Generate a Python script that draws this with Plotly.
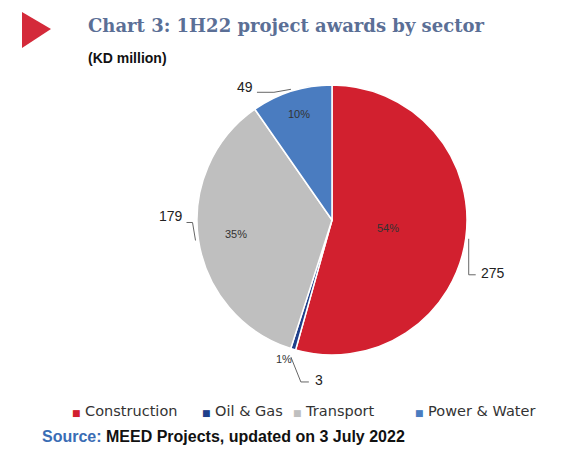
import numpy as np
import plotly.graph_objects as go

categories = ["Construction", "Oil & Gas", "Transport", "Power & Water"]
values = [275, 3, 179, 49]
colors = ["#d2202f", "#1f3f8a", "#bfbfbf", "#4a7cc0"]

W, H = 579, 452
OFF = 8  # page body margin in the browser
def PX(x):
    return (x - OFF) / W
def PY(y):
    return 1 - (y - OFF) / H

cx, cy, R = 332, 220, 135  # pie centre/radius in screen px (layout)

fig = go.Figure()
pcts = [v / sum(values) * 100 for v in values]
fig.add_trace(go.Pie(
    labels=categories, values=values, sort=False, direction="clockwise", rotation=0,
    marker=dict(colors=colors, line=dict(color="white", width=1.5)),
    textinfo="none",
    domain=dict(x=[PX(cx - R), PX(cx + R)], y=[PY(cy + R), PY(cy - R)]),
    showlegend=False, hoverinfo="label+value+percent",
))

cum = np.cumsum([0] + values) / sum(values) * 360
mids = (cum[:-1] + cum[1:]) / 2

def polar(angle_deg, rad):
    th = np.deg2rad(angle_deg)
    return cx + rad * np.sin(th), cy - rad * np.cos(th)

# style per slice: percent label radius fraction, leader push, elbow, end, label anchor
style = {
    "Construction": dict(rf=0.42, push=3, elbow=(0, 36), end=(7, 0), lab=(3, -2), anchor="left"),
    "Oil & Gas": dict(rf=None, push=8, elbow=(10, 25), end=(8, 0), lab=(4, -2), anchor="left"),
    "Transport": dict(rf=0.72, push=3, elbow=(-3, -18), end=(-6, 0), lab=(-2, -6), anchor="right"),
    "Power & Water": dict(rf=0.82, push=2, elbow=(-17, 3), end=(-17, 0), lab=(-2, -5), anchor="right"),
}
lab_font = dict(family="Liberation Sans", size=14, color="#222222")
pct_font = dict(family="Liberation Sans", size=11, color="#333333")
for cat, v, m, p in zip(categories, values, mids, pcts):
    s = style[cat]
    ex, ey = polar(m, R + s["push"])
    bx, by = ex + s["elbow"][0], ey + s["elbow"][1]
    qx, qy = bx + s["end"][0], by + s["end"][1]
    fig.add_shape(type="path", xref="paper", yref="paper",
                  path=f"M {PX(ex)} {PY(ey)} L {PX(bx)} {PY(by)} L {PX(qx)} {PY(qy)}",
                  line=dict(color="#666666", width=1))
    fig.add_annotation(x=PX(qx + s["lab"][0]), y=PY(qy + s["lab"][1]), xref="paper", yref="paper",
                       text=str(v), showarrow=False, xanchor=s["anchor"], yanchor="middle", font=lab_font)
    if s["rf"] is not None:
        tx, ty = polar(m, R * s["rf"])
        fig.add_annotation(x=PX(tx), y=PY(ty), xref="paper", yref="paper", text=f"{round(p)}%",
                           showarrow=False, xanchor="center", yanchor="middle", font=pct_font)
    else:
        tx, ty = polar(m, R + 2)
        fig.add_annotation(x=PX(tx + 1), y=PY(ty + 8), xref="paper", yref="paper", text=f"{round(p)}%",
                           showarrow=False, xanchor="right", yanchor="middle", font=pct_font)

# legend as coloured squares
leg_x = [70, 200, 291, 413]
for cat, col, lx in zip(categories, colors, leg_x):
    fig.add_annotation(x=PX(lx), y=PY(411), xref="paper", yref="paper", xanchor="left", yanchor="middle",
                       text=f"<span style='color:{col};font-size:9px'>■</span> {cat}",
                       showarrow=False, font=dict(family="DejaVu Sans", size=14.5, color="#333333"))

# title, subtitle, source
fig.add_annotation(x=PX(86), y=PY(25), xref="paper", yref="paper", xanchor="left", yanchor="middle",
                   text="<b>Chart 3: 1H22 project awards by sector</b>", showarrow=False,
                   font=dict(family="DejaVu Serif", size=18, color="#5b6f96"))
fig.add_annotation(x=PX(86), y=PY(58), xref="paper", yref="paper", xanchor="left", yanchor="middle",
                   text="<b>(KD million)</b>", showarrow=False,
                   font=dict(family="Liberation Sans Narrow, Liberation Sans", size=14, color="#111111"))
fig.add_annotation(x=PX(40), y=PY(436), xref="paper", yref="paper", xanchor="left", yanchor="middle",
                   text="<b><span style='color:#3a6db5'>Source:</span> MEED Projects, updated on 3 July 2022</b>",
                   showarrow=False,
                   font=dict(family="Liberation Sans Narrow, Liberation Sans", size=16, color="#111111"))

fig.add_shape(type="path", xref="paper", yref="paper",
              path=f"M {PX(22)} {PY(12)} L {PX(51)} {PY(29)} L {PX(22)} {PY(48)} Z",
              fillcolor="#d42a3a", line=dict(width=0))

fig.update_layout(width=W, height=H, margin=dict(l=0, r=0, t=0, b=0),
                  paper_bgcolor="white", plot_bgcolor="white", showlegend=False)
fig.write_html("out.html")
